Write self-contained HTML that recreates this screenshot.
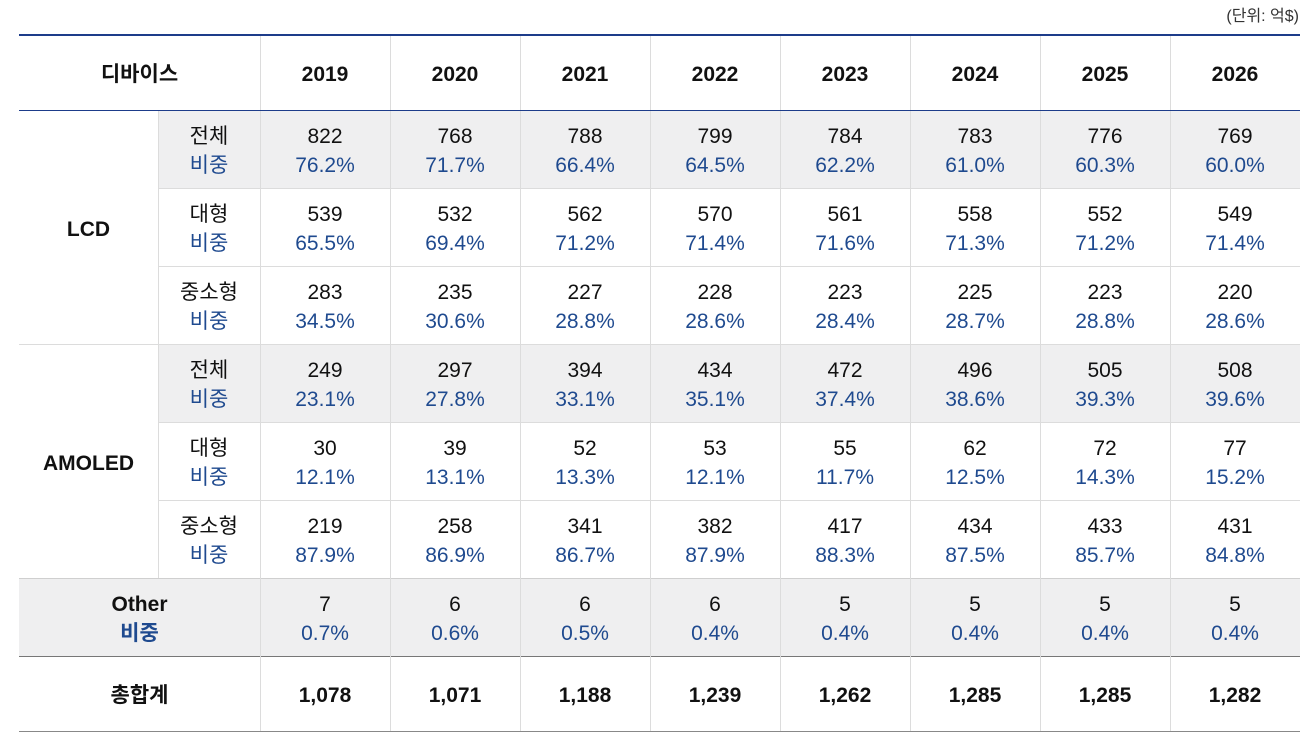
<!DOCTYPE html>
<html><head><meta charset="utf-8">
<style>
body{margin:0;width:1307px;height:739px;background:#fff;position:relative;overflow:hidden;font-family:"Liberation Sans","Noto Sans CJK KR",sans-serif;color:#111}
.c{position:absolute;display:flex;flex-direction:column;align-items:center;justify-content:center;text-align:center;font-size:21px;line-height:29px;box-sizing:border-box;padding-top:4px}
.b{font-weight:bold}
.blue{color:#1f4a8f}
.g{background:#efeff0}
.hl{position:absolute;height:1px;background:#dcdcdc}
.vl{position:absolute;width:1px;background:#dcdcdc}
</style></head><body>
<div style="position:absolute;right:8px;top:2px;font-size:16px;color:#333">(단위: 억$)</div>
<div id="t"></div>
<script>
const years=['2019','2020','2021','2022','2023','2024','2025','2026'];
const lcdTotal=['822','768','788','799','784','783','776','769'];
const lcdTotalPct=['76.2%','71.7%','66.4%','64.5%','62.2%','61.0%','60.3%','60.0%'];
const lcdLarge=['539','532','562','570','561','558','552','549'];
const lcdLargePct=['65.5%','69.4%','71.2%','71.4%','71.6%','71.3%','71.2%','71.4%'];
const lcdSmall=['283','235','227','228','223','225','223','220'];
const lcdSmallPct=['34.5%','30.6%','28.8%','28.6%','28.4%','28.7%','28.8%','28.6%'];
const amTotal=['249','297','394','434','472','496','505','508'];
const amTotalPct=['23.1%','27.8%','33.1%','35.1%','37.4%','38.6%','39.3%','39.6%'];
const amLarge=['30','39','52','53','55','62','72','77'];
const amLargePct=['12.1%','13.1%','13.3%','12.1%','11.7%','12.5%','14.3%','15.2%'];
const amSmall=['219','258','341','382','417','434','433','431'];
const amSmallPct=['87.9%','86.9%','86.7%','87.9%','88.3%','87.5%','85.7%','84.8%'];
const other=['7','6','6','6','5','5','5','5'];
const otherPct=['0.7%','0.6%','0.5%','0.4%','0.4%','0.4%','0.4%','0.4%'];
const total=['1,078','1,071','1,188','1,239','1,262','1,285','1,285','1,282'];

const T=document.getElementById('t');
function cell(x,y,w,h,html,cls){
  const d=document.createElement('div');
  d.className='c '+(cls||'');
  d.style.left=x+'px';d.style.top=y+'px';d.style.width=w+'px';d.style.height=h+'px';
  d.innerHTML=html;
  T.appendChild(d);return d;
}
function line(cls,x,y,w,h,col){
  const d=document.createElement('div');d.className=cls;
  d.style.left=x+'px';d.style.top=y+'px';
  if(w)d.style.width=w+'px';if(h)d.style.height=h+'px';if(col)d.style.background=col;
  T.appendChild(d);return d;
}
const X0=19,XS=158,XD=260,CW=130,XR=1300;
let h=cell(X0,35,XD-X0,75,'디바이스','b');


years.forEach((y,i)=>{
  const c=cell(XD+i*CW,35,CW,75,y,'b');
  
  
});
const rows=[
 ['전체',lcdTotal,lcdTotalPct,true,'lcd-total'],
 ['대형',lcdLarge,lcdLargePct,false,'lcd-large'],
 ['중소형',lcdSmall,lcdSmallPct,false,'lcd-small'],
 ['전체',amTotal,amTotalPct,true,'amoled-total'],
 ['대형',amLarge,amLargePct,false,'amoled-large'],
 ['중소형',amSmall,amSmallPct,false,'amoled-small']
];
const RH=78,Y0=110;
rows.forEach((r,ri)=>{
  const y=Y0+ri*RH;
  const s=cell(XS,y,XD-XS,RH,r[0]+'<span class="blue">비중</span>',r[3]?'g':'');
  
  
  r[1].forEach((v,i)=>{
    const c=cell(XD+i*CW,y,CW,RH,v+'<span class="blue">'+r[2][i]+'</span>',r[3]?'g':'');
    
    
  });
});
let g1=cell(X0,Y0,XS-X0,RH*3,'LCD','b');


let g2=cell(X0,Y0+RH*3,XS-X0,RH*3,'AMOLED','b');


const YO=Y0+RH*6;
let o=cell(X0,YO,XD-X0,RH,'Other<span class="blue">비중</span>','b g');


other.forEach((v,i)=>{
  const c=cell(XD+i*CW,YO,CW,RH,v+'<span class="blue">'+otherPct[i]+'</span>','g');
  
  
});
const YT=YO+RH;
let t=cell(X0,YT,XD-X0,75,'총합계','b');


total.forEach((v,i)=>{
  const c=cell(XD+i*CW,YT,CW,75,v,'b');
  
  
});
for(let ri=1;ri<6;ri++){
  const y=Y0+ri*RH;
  if(ri===3) line('hl',X0,y,XR-X0,1);
  else line('hl',XS,y,XR-XS,1);
}
line('hl',X0,YO,XR-X0,1,'#cfcfcf');
line('hl',X0,YT,XR-X0,1,'#777');
line('hl',X0,731,XR-X0,1,'#888');
line('vl',XS,Y0,0,RH*6);
for(let i=0;i<8;i++) line('vl',XD+i*CW,35,0,731-35);
line('hl',X0,34,XR-X0,2,'#1d3c8a');
line('hl',X0,110,XR-X0,1,'#1d3c8a');
</script>
</body></html>
